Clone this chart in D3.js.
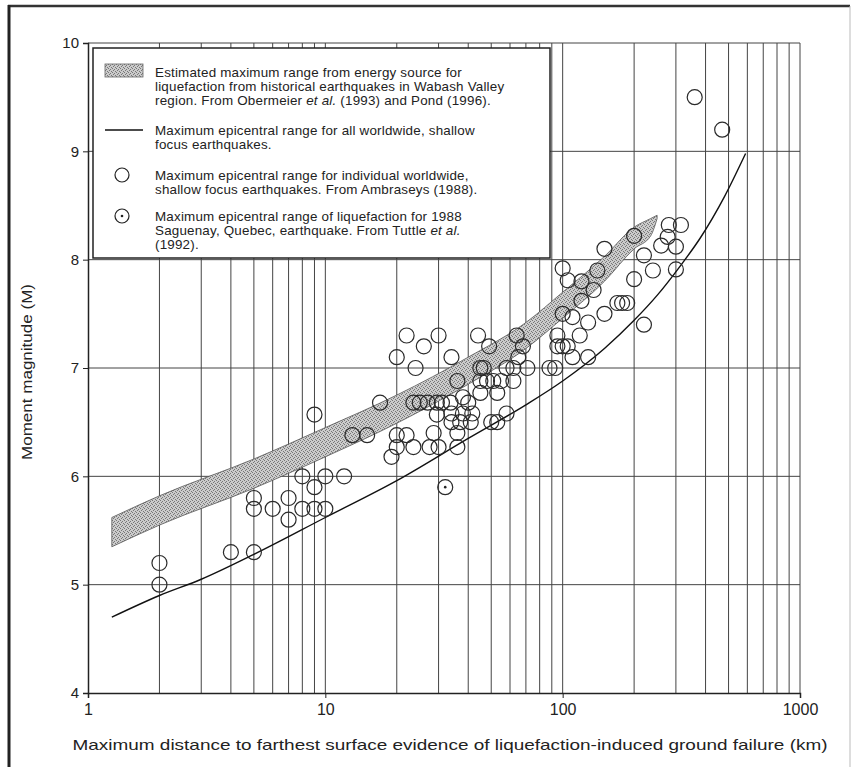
<!DOCTYPE html>
<html><head><meta charset="utf-8">
<script src="https://cdn.jsdelivr.net/npm/d3@7"></script>
<style>body{margin:0;background:#fff}svg{display:block}text{font-family:"Liberation Sans",Arial,sans-serif;fill:#222}</style>
</head><body><svg id="c" width="854" height="767"></svg>
<script>
// ---------- data ----------
const xTickLabels = [1, 10, 100, 1000];
const yTickLabels = [4, 5, 6, 7, 8, 9, 10];
// worldwide maximum epicentral range curve
const curveDist = [1.26, 2, 3, 5, 10, 20, 40, 70, 100, 150, 200, 250, 315, 380, 480, 590];
const curveMag  = [4.70, 4.90, 5.05, 5.28, 5.62, 5.96, 6.35, 6.66, 6.88, 7.18, 7.44, 7.67, 7.95, 8.20, 8.58, 8.98];
// Wabash Valley band
const bandDist   = [1.26, 2, 5, 10, 20, 40, 70, 100, 150, 200, 235, 250];
const bandTop    = [5.62, 5.82, 6.16, 6.45, 6.75, 7.10, 7.42, 7.70, 8.03, 8.30, 8.38, 8.41];
const bandBottom = [5.35, 5.55, 5.89, 6.18, 6.49, 6.85, 7.18, 7.46, 7.80, 8.10, 8.22, 8.38];
// individual earthquakes (Ambraseys 1988)
const eqDist = [2, 2, 4, 5, 5, 5, 6, 7, 7, 8, 8, 9, 9, 9, 10, 10, 12, 13, 15,
  17, 19, 20, 20, 20, 22, 22, 24, 26, 23.5, 25, 27, 29.5, 29.5, 23.5, 27.5, 30, 30, 34, 33.7, 31, 34, 38, 41.6, 34, 37, 41, 28.6, 36, 36, 36, 38, 40,
  44, 45, 46.5, 49, 45, 48, 51, 55, 62, 45, 53, 50, 53, 58, 58, 62, 64, 68, 65, 71,
  88, 93, 95, 100, 105, 95, 110, 128, 118, 100, 110, 128, 150, 120, 170, 178, 187, 135, 105, 120, 100, 140, 150, 200, 200, 220, 240, 260, 277, 280, 315, 300, 300, 220, 360, 470];
const eqMag = [5.2, 5.0, 5.3, 5.3, 5.8, 5.7, 5.7, 5.8, 5.6, 6.0, 5.7, 5.9, 5.7, 6.57, 6.0, 5.7, 6.0, 6.38, 6.38,
  6.68, 6.18, 7.1, 6.38, 6.27, 7.3, 6.38, 7.0, 7.2, 6.68, 6.68, 6.68, 6.68, 6.57, 6.27, 6.27, 6.27, 7.3, 7.1, 6.68, 6.68, 6.58, 6.58, 6.58, 6.5, 6.5, 6.5, 6.4, 6.4, 6.27, 6.88, 6.73, 6.68,
  7.3, 7.0, 7.0, 7.2, 6.88, 6.88, 6.88, 6.88, 6.88, 6.77, 6.77, 6.5, 6.5, 6.58, 7.0, 7.0, 7.3, 7.2, 7.1, 7.0,
  7.0, 7.0, 7.2, 7.2, 7.2, 7.3, 7.1, 7.1, 7.3, 7.5, 7.47, 7.42, 7.5, 7.62, 7.6, 7.6, 7.6, 7.72, 7.81, 7.8, 7.92, 7.9, 8.1, 8.22, 7.82, 8.04, 7.9, 8.13, 8.21, 8.32, 8.32, 8.12, 7.91, 7.4, 9.5, 9.2];
// Saguenay 1988 (Tuttle et al. 1992)
const sagDist = [32];
const sagMag = [5.9];
const legendTexts = [
  ["Estimated maximum range from energy source for", "liquefaction from historical earthquakes in Wabash Valley", "region. From Obermeier |et al.| (1993) and Pond (1996)."],
  ["Maximum epicentral range for all worldwide, shallow", "focus earthquakes."],
  ["Maximum epicentral range for individual worldwide,", "shallow focus earthquakes. From Ambraseys (1988)."],
  ["Maximum epicentral range of liquefaction for 1988", "Saguenay, Quebec, earthquake.  From Tuttle |et al.|", "(1992)."]
];
const xTitle = "Maximum  distance to farthest surface evidence of liquefaction-induced ground failure (km)";
const yTitle = "Moment magnitude (M)";

// ---------- drawing ----------
const svg = d3.select("#c");
const x = d3.scaleLog().domain([1, 1000]).range([88, 800]);
const y = d3.scaleLinear().domain([4, 10]).range([693, 43]);

const defs = svg.append("defs");
const pat = defs.append("pattern").attr("id", "stip").attr("patternUnits", "userSpaceOnUse").attr("width", 4).attr("height", 4);
pat.append("rect").attr("width", 4).attr("height", 4).attr("fill", "#cbcbcb");
[[0,0],[2,1],[1,2],[3,3]].forEach(p => pat.append("rect").attr("x", p[0]).attr("y", p[1]).attr("width", 1).attr("height", 1).attr("fill", "#777"));

// outer frame
svg.append("line").attr("x1", 8).attr("x2", 850).attr("y1", 6).attr("y2", 6).attr("stroke", "#333").attr("stroke-width", 2.5);
svg.append("line").attr("x1", 9).attr("x2", 9).attr("y1", 5).attr("y2", 767).attr("stroke", "#222").attr("stroke-width", 3);
svg.append("line").attr("x1", 850).attr("x2", 850).attr("y1", 6).attr("y2", 767).attr("stroke", "#bbb").attr("stroke-width", 1);

// grid
const minor = [];
[1, 10, 100].forEach(d => { for (let k = 2; k <= 10; k++) minor.push(d * k); });
const grid = svg.append("g").attr("stroke", "#444").attr("stroke-width", 1);
grid.selectAll("line.v").data(minor).join("line").attr("class", "v")
  .attr("x1", d => x(d)).attr("x2", d => x(d)).attr("y1", y(4)).attr("y2", y(10));
grid.selectAll("line.h").data([5, 6, 7, 8, 9, 10]).join("line").attr("class", "h")
  .attr("x1", x(1)).attr("x2", x(1000)).attr("y1", d => y(d)).attr("y2", d => y(d));

// axes
const xAxis = svg.append("g").attr("transform", `translate(0,${y(4)})`)
  .call(d3.axisBottom(x).tickValues(xTickLabels).tickFormat(d3.format("d")).tickSize(5).tickPadding(6));
const yAxis = svg.append("g").attr("transform", `translate(${x(1)},0)`)
  .call(d3.axisLeft(y).tickValues(yTickLabels).tickFormat(d3.format("d")).tickSize(5).tickPadding(4));
[xAxis, yAxis].forEach(a => { a.select(".domain").attr("stroke", "#222").attr("stroke-width", 1.5); a.selectAll(".tick line").attr("stroke", "#222"); });
xAxis.selectAll("text").attr("font-size", 16).attr("fill", "#222").attr("font-family", "Liberation Sans, Arial");
yAxis.selectAll("text").attr("font-size", 15).attr("fill", "#222").attr("font-family", "Liberation Sans, Arial");

// band
const bandData = bandDist.map((d, i) => ({ d, t: bandTop[i], b: bandBottom[i] }));
svg.append("path").datum(bandData)
  .attr("d", d3.area().x(p => x(p.d)).y0(p => y(p.b)).y1(p => y(p.t)).curve(d3.curveMonotoneX))
  .attr("fill", "url(#stip)").attr("stroke", "#555").attr("stroke-width", 0.8);

// curve
const curveData = curveDist.map((d, i) => ({ d, m: curveMag[i] }));
svg.append("path").datum(curveData)
  .attr("d", d3.line().x(p => x(p.d)).y(p => y(p.m)).curve(d3.curveMonotoneX))
  .attr("fill", "none").attr("stroke", "#111").attr("stroke-width", 1.4);

// circles
const eq = eqDist.map((d, i) => ({ d, m: eqMag[i] }));
svg.append("g").selectAll("circle").data(eq).join("circle")
  .attr("cx", p => x(p.d)).attr("cy", p => y(p.m)).attr("r", 7.5)
  .attr("fill", "none").attr("stroke", "#2a2a2a").attr("stroke-width", 1.2);
const sag = sagDist.map((d, i) => ({ d, m: sagMag[i] }));
const sg = svg.append("g");
sg.selectAll("circle.o").data(sag).join("circle").attr("class", "o")
  .attr("cx", p => x(p.d)).attr("cy", p => y(p.m)).attr("r", 7.5)
  .attr("fill", "none").attr("stroke", "#2a2a2a").attr("stroke-width", 1.2);
sg.selectAll("circle.i").data(sag).join("circle").attr("class", "i")
  .attr("cx", p => x(p.d)).attr("cy", p => y(p.m)).attr("r", 1.3).attr("fill", "#222");

// legend
const lg = svg.append("g");
lg.append("rect").attr("x", 93).attr("y", 48).attr("width", 457).attr("height", 210)
  .attr("fill", "#fff").attr("stroke", "#222").attr("stroke-width", 1.5);
const lineY = [[72, 86, 100], [130, 144], [175, 189], [216, 230, 244]];
legendTexts.forEach((lines, i) => {
  lines.forEach((s, j) => {
    const t = lg.append("text").attr("x", 155).attr("y", lineY[i][j]).attr("dy", "0.35em")
      .attr("font-size", 13.4).attr("letter-spacing", 0.2);
    s.split("|").forEach((part, k) => {
      t.append("tspan").text(part).attr("font-style", k % 2 ? "italic" : "normal");
    });
  });
});
lg.append("rect").attr("x", 105).attr("y", 64).attr("width", 38).attr("height", 13)
  .attr("fill", "url(#stip)").attr("stroke", "#666").attr("stroke-width", 0.8);
lg.append("line").attr("x1", 105).attr("x2", 143).attr("y1", 130).attr("y2", 130).attr("stroke", "#111").attr("stroke-width", 1.3);
lg.append("circle").attr("cx", 122).attr("cy", 175).attr("r", 7).attr("fill", "none").attr("stroke", "#222").attr("stroke-width", 1.2);
lg.append("circle").attr("cx", 122).attr("cy", 216).attr("r", 7).attr("fill", "none").attr("stroke", "#222").attr("stroke-width", 1.2);
lg.append("circle").attr("cx", 122).attr("cy", 216).attr("r", 1.3).attr("fill", "#222");

// titles
svg.append("text").attr("x", 450).attr("y", 750).attr("text-anchor", "middle").attr("font-size", 15)
  .attr("textLength", 755).attr("lengthAdjust", "spacingAndGlyphs").text(xTitle);
svg.append("text").attr("transform", "translate(32,372) rotate(-90)").attr("text-anchor", "middle").attr("font-size", 15)
  .attr("textLength", 176).attr("lengthAdjust", "spacingAndGlyphs").text(yTitle);
</script></body></html>
